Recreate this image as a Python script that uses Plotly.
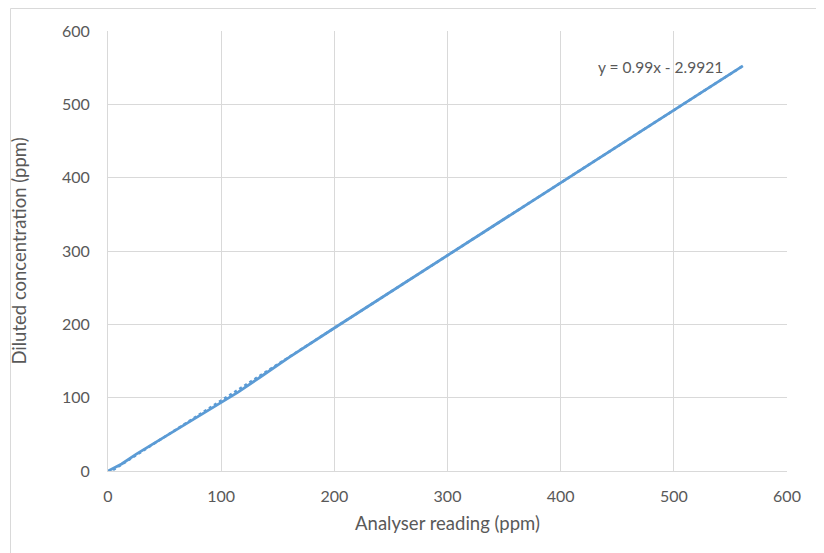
import plotly.graph_objects as go
import numpy as np

# Data
analyser_reading = [0, 12, 25, 50, 75, 100, 115, 135, 160, 200, 250, 300, 350, 400, 450, 500, 561]
diluted_conc = [0, 9.5, 23, 46.5, 70.5, 93, 107.5, 128.5, 155, 195, 244.5, 294, 344, 393, 443, 492, 552.5]

# Trendline coefficients (from equation label)
slope = 0.99
intercept = -2.9921
trend_label = "y = 0.99x - 2.9921"

x_ticks = [0, 100, 200, 300, 400, 500, 600]
y_ticks = [0, 100, 200, 300, 400, 500, 600]

line_color = "#5B9BD5"
text_color = "#595959"
grid_color = "#D9D9D9"
font_family = "Lato, 'Open Sans', sans-serif"

tx = np.linspace(min(analyser_reading), max(analyser_reading), 200)
ty = slope * tx + intercept

fig = go.Figure()
fig.add_trace(go.Scatter(
    x=tx, y=ty, mode="lines",
    line=dict(color=line_color, width=2.5, dash="dot"),
    showlegend=False, hoverinfo="skip",
))
fig.add_trace(go.Scatter(
    x=analyser_reading, y=diluted_conc, mode="lines",
    line=dict(color=line_color, width=2.8),
    showlegend=False,
))

# page body has an 8px default margin
W, H = 816, 545
ml, mr, mt, mb = 100, 37, 23, 82
pw, ph = W - ml - mr, H - mt - mb

def px(xp):
    return (xp - ml) / pw

def py(yp):
    return (H - mb - yp) / ph

fig.add_shape(type="rect", xref="paper", yref="paper",
              x0=px(2.5), x1=px(813.5), y0=py(560), y1=py(0.5),
              line=dict(color="#D9D9D9", width=1), fillcolor="rgba(0,0,0,0)", layer="below")

fig.add_annotation(x=488, y=551, xref="x", yref="y", text=trend_label, showarrow=False,
                   xanchor="center", yanchor="middle",
                   font=dict(family=font_family, size=15.5, color=text_color))

fig.update_layout(
    width=W, height=H,
    margin=dict(l=ml, r=mr, t=mt, b=mb, autoexpand=False),
    paper_bgcolor="white", plot_bgcolor="white",
    font=dict(family=font_family, color=text_color, size=16),
    xaxis=dict(
        range=[0, 600], tickvals=x_ticks, ticktext=[str(v) for v in x_ticks],
        showgrid=True, gridcolor=grid_color, gridwidth=1,
        zeroline=False, showline=True, linecolor=grid_color, linewidth=1, mirror=False,
        ticks="", ticklabelstandoff=11,
        title=dict(text="Analyser reading (ppm)", font=dict(size=18.5, color=text_color), standoff=12),
        tickfont=dict(size=16, color=text_color),
    ),
    yaxis=dict(
        range=[0, 600], tickvals=y_ticks, ticktext=[str(v) for v in y_ticks],
        showgrid=True, gridcolor=grid_color, gridwidth=1,
        zeroline=False, showline=True, linecolor=grid_color, linewidth=1,
        ticks="", ticklabelstandoff=14,
        title=dict(text="Diluted concentration (ppm)", font=dict(size=18.5, color=text_color), standoff=31),
        tickfont=dict(size=16, color=text_color),
    ),
)

fig.write_html("out.html")
